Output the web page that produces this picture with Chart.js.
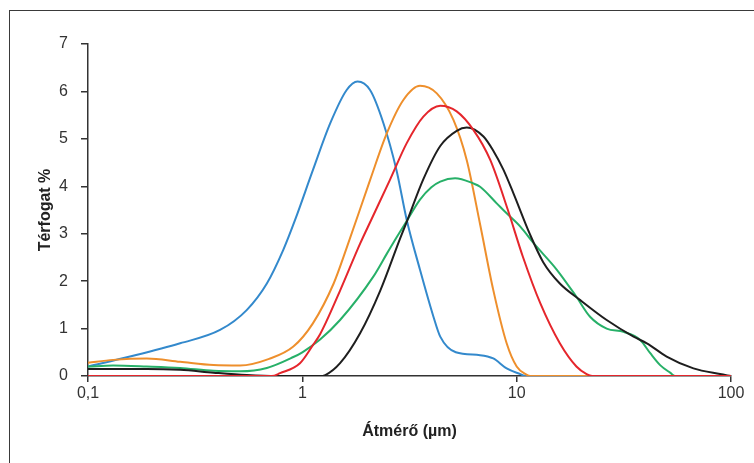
<!DOCTYPE html>
<html>
<head>
<meta charset="utf-8">
<script src="https://cdn.jsdelivr.net/npm/chart.js@4/dist/chart.umd.min.js"></script>
<style>
  html, body { margin: 0; padding: 0; background: #fff; overflow: hidden; }
  #wrap { position: relative; width: 754px; height: 463px; }
  #frame { position: absolute; left: 9px; top: 10px; width: 800px; height: 520px; border: 1.5px solid #3a3a3a; }
  canvas { position: absolute; left: 0; top: 0; }
</style>
</head>
<body>
<div id="wrap">
  <div id="frame"></div>
  <canvas id="grafico" width="754" height="463"></canvas>
</div>
<script>
// tengelyek
const xTicks = [0.1, 1, 10, 100];
const xTickLabels = ["0,1", "1", "10", "100"];
const yTicks = [0, 1, 2, 3, 4, 5, 6, 7];

// kék görbe
const blueX = [0.1, 0.157, 0.269, 0.413, 0.55, 0.683, 0.815, 0.925, 1.12, 1.35, 1.61, 1.81, 2.07, 2.39, 2.75, 3.07, 3.54, 4.09, 4.4, 5.2, 6.75, 7.78, 8.98, 10.4, 11, 100];
const blueY = [0.2, 0.41, 0.69, 0.97, 1.39, 1.95, 2.66, 3.29, 4.34, 5.33, 6.03, 6.21, 6.03, 5.33, 4.34, 3.29, 2.24, 1.25, 0.83, 0.5, 0.44, 0.37, 0.16, 0.04, 0, 0];

// narancs görbe
const orangeX = [0.1, 0.131, 0.188, 0.269, 0.385, 0.512, 0.7, 0.908, 1.12, 1.4, 1.61, 2.07, 2.48, 2.96, 3.54, 4.24, 5.07, 5.85, 6.75, 7.78, 8.98, 10.0, 11.1, 11.6, 100];
const orangeY = [0.28, 0.34, 0.37, 0.3, 0.23, 0.22, 0.36, 0.62, 1.11, 1.95, 2.7, 4.13, 5.12, 5.82, 6.12, 5.96, 5.4, 4.55, 3.2, 1.81, 0.69, 0.2, 0.03, 0, 0];

// piros görbe
const redX = [0.1, 0.72, 0.787, 0.975, 1.12, 1.21, 1.5, 1.86, 2.1, 2.56, 3.07, 3.67, 4.4, 5.25, 6.28, 7.52, 9.1, 10.7, 12.9, 15.9, 19.0, 21.2, 22.5, 100];
const redY = [0, 0, 0.06, 0.27, 0.65, 0.88, 1.8, 2.79, 3.3, 4.13, 4.91, 5.47, 5.7, 5.58, 5.19, 4.56, 3.5, 2.51, 1.53, 0.69, 0.2, 0.04, 0, 0];

// zöld görbe
const greenX = [0.1, 0.131, 0.188, 0.269, 0.385, 0.512, 0.683, 0.908, 1.0, 1.21, 1.5, 2.14, 2.48, 2.75, 3.07, 3.54, 4.0, 4.4, 5.16, 6.28, 6.75, 8.07, 8.98, 10.4, 12.0, 15.4, 19.0, 22.0, 26.3, 31.5, 37.7, 42.0, 46.7, 52.0, 55, 100];
const greenY = [0.2, 0.22, 0.2, 0.17, 0.11, 0.1, 0.17, 0.4, 0.5, 0.77, 1.18, 2.09, 2.58, 2.92, 3.27, 3.72, 3.98, 4.1, 4.17, 4.06, 3.99, 3.64, 3.43, 3.15, 2.8, 2.24, 1.67, 1.25, 1.0, 0.93, 0.76, 0.48, 0.23, 0.07, 0, 0];

// fekete görbe
const blackX = [0.1, 0.131, 0.188, 0.269, 0.385, 0.55, 0.76, 1.2, 1.28, 1.5, 1.86, 2.31, 2.86, 3.07, 3.67, 4.4, 5.25, 5.85, 7.0, 7.78, 8.67, 9.66, 11.5, 13.3, 15.9, 19.8, 26.3, 35.1, 40.5, 50.1, 66.8, 88.9, 100];
const blackY = [0.15, 0.15, 0.15, 0.13, 0.07, 0.02, 0, 0, 0.02, 0.27, 0.9, 1.8, 2.9, 3.25, 4.15, 4.85, 5.17, 5.24, 5.05, 4.75, 4.35, 3.85, 3.0, 2.4, 1.95, 1.6, 1.18, 0.83, 0.69, 0.41, 0.16, 0.04, 0];

function pontok(xs, ys) {
  return xs.map((x, i) => ({ x: x, y: ys[i] }));
}

const tickFont = { family: "'Liberation Sans', Arial, sans-serif", size: 16 };

function sorozat(xs, ys, szin, sorrend) {
  return {
    data: pontok(xs, ys),
    borderColor: szin,
    borderWidth: 2,
    pointRadius: 0,
    fill: false,
    cubicInterpolationMode: "monotone",
    order: sorrend
  };
}

const ctx = document.getElementById("grafico").getContext("2d");

new Chart(ctx, {
  type: "line",
  data: {
    datasets: [
      sorozat(redX, redY, "#e5262c", 0),
      sorozat(blackX, blackY, "#1e1e1e", 1),
      sorozat(greenX, greenY, "#27b068", 2),
      sorozat(orangeX, orangeY, "#ee8f2c", 3),
      sorozat(blueX, blueY, "#3389cc", 4)
    ]
  },
  options: {
    responsive: false,
    animation: false,
    layout: { padding: { left: 0, right: 23, top: 44, bottom: 0 } },
    plugins: {
      legend: { display: false },
      tooltip: { enabled: false }
    },
    scales: {
      x: {
        type: "logarithmic",
        min: 0.1,
        max: 100,
        afterBuildTicks: scale => {
          scale.ticks = xTicks.map(v => ({ value: v }));
        },
        afterFit: scale => { scale.height = 87; },
        grid: { drawOnChartArea: false, drawTicks: true, tickLength: 6, color: "#333", lineWidth: 1.5 },
        border: { display: true, color: "#333", width: 1.5 },
        ticks: {
          color: "#333",
          font: tickFont,
          padding: 2,
          maxRotation: 0,
          autoSkip: false,
          callback: (v) => {
            const i = xTicks.indexOf(v);
            return i >= 0 ? xTickLabels[i] : "";
          }
        },
        title: {
          display: true,
          text: "Átmérő (µm)",
          color: "#222",
          font: { family: "'Liberation Sans', Arial, sans-serif", size: 16, weight: "bold" },
          padding: { top: 0, bottom: 22 }
        }
      },
      y: {
        type: "linear",
        min: 0,
        max: 7,
        afterBuildTicks: scale => {
          scale.ticks = yTicks.map(v => ({ value: v }));
        },
        afterFit: scale => { scale.width = 88; },
        grid: { drawOnChartArea: false, drawTicks: true, tickLength: 7, color: "#333", lineWidth: 1.5 },
        border: { display: true, color: "#333", width: 1.5 },
        ticks: {
          color: "#333",
          font: tickFont,
          padding: 13
        },
        title: {
          display: true,
          text: "Térfogat %",
          color: "#222",
          font: { family: "'Liberation Sans', Arial, sans-serif", size: 16, weight: "bold" },
          padding: { top: 36, bottom: 0 }
        }
      }
    }
  }
});
</script>
</body>
</html>
